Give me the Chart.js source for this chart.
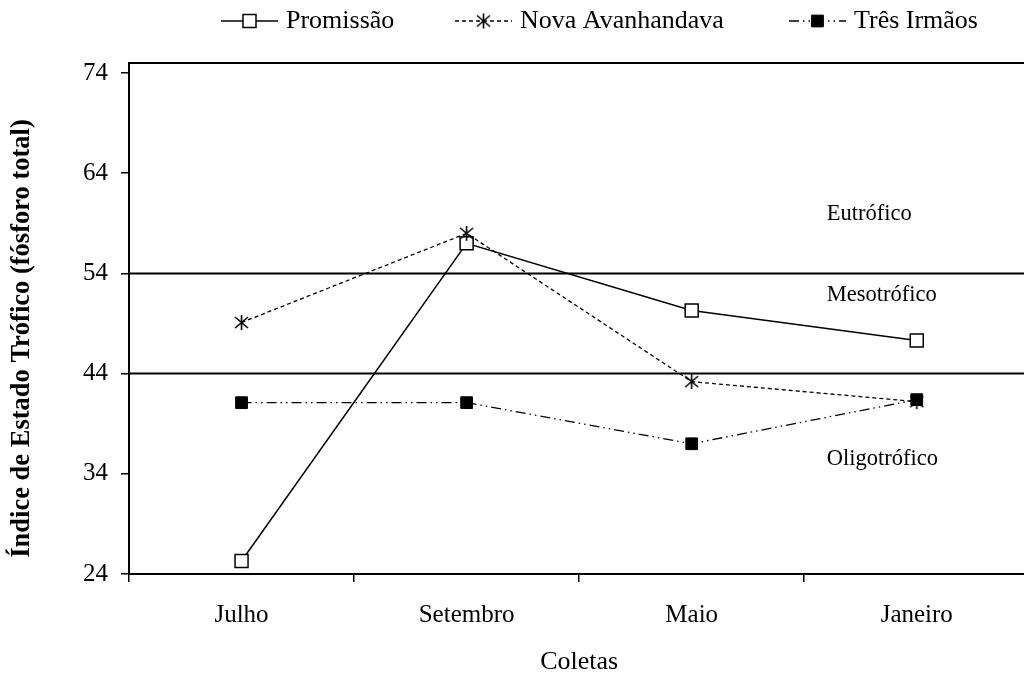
<!DOCTYPE html>
<html>
<head>
<meta charset="utf-8">
<script src="https://cdn.jsdelivr.net/npm/chart.js@4"></script>
<style>
  html, body { margin: 0; padding: 0; background: #fff; overflow: hidden; }
  #box { width: 1040px; height: 675px; }
</style>
</head>
<body>
<div id="box"><canvas id="grafico" width="1040" height="675"></canvas></div>
<script>
// valores do IET (fosforo total) por coleta
const coletas = ['Julho', 'Setembro', 'Maio', 'Janeiro'];
const promissao = [25.3, 57.0, 50.3, 47.3];
const novaAvanhandava = [49.1, 58.0, 43.2, 41.2];
const tresIrmaos = [41.1, 41.1, 37.0, 41.4];
const ticksY = [24, 34, 44, 54, 64, 74];
// limites entre as classes de estado trofico
const limites = [54, 44];
const classes = ['Eutrófico', 'Mesotrófico', 'Oligotrófico'];
const classesY = [59.9, 51.8, 35.5];
const tituloY = 'Índice de Estado Trófico (fósforo total)';

const fonte = "'Liberation Serif', 'Times New Roman', serif";

// marcador asterisco (X com traco vertical)
function estrela() {
  const c = document.createElement('canvas');
  c.width = 17; c.height = 17;
  const g = c.getContext('2d');
  g.strokeStyle = '#000';
  g.lineWidth = 1.6;
  g.beginPath();
  g.moveTo(8.5, 1); g.lineTo(8.5, 16);
  g.moveTo(2, 3); g.lineTo(15, 14);
  g.moveTo(15, 3); g.lineTo(2, 14);
  g.stroke();
  return c;
}

const faixas = {
  id: 'faixas',
  beforeDatasetsDraw(chart) {
    const {ctx, chartArea, scales} = chart;
    ctx.save();
    ctx.strokeStyle = '#000';
    ctx.lineWidth = 2;
    ctx.beginPath();
    // linha do topo
    ctx.moveTo(chartArea.left, chartArea.top);
    ctx.lineTo(chartArea.right, chartArea.top);
    limites.forEach(v => {
      const y = scales.y.getPixelForValue(v);
      ctx.moveTo(chartArea.left, y);
      ctx.lineTo(chartArea.right, y);
    });
    ctx.stroke();
    ctx.fillStyle = '#000';
    ctx.font = '22.5px ' + fonte;
    ctx.textAlign = 'left';
    ctx.textBaseline = 'middle';
    const x = scales.x.getPixelForValue(2.6);
    classes.forEach((t, i) => {
      ctx.fillText(t, x, scales.y.getPixelForValue(classesY[i]));
    });
    // titulo do eixo y
    ctx.translate(22, (chartArea.top + chartArea.bottom) / 2 + 20);
    ctx.rotate(-Math.PI / 2);
    ctx.textAlign = 'center';
    ctx.font = 'bold 26.5px ' + fonte;
    ctx.fillText(tituloY, 0, 0);
    ctx.restore();
  }
};

const legenda = {
  id: 'legenda',
  afterDraw(chart) {
    const {ctx} = chart;
    const inicio = [221, 455, 789];
    const y = 21;
    const comp = 57;
    ctx.save();
    ctx.font = '26px ' + fonte;
    ctx.textBaseline = 'middle';
    chart.data.datasets.forEach((ds, i) => {
      const x0 = inicio[i];
      ctx.strokeStyle = '#000';
      ctx.lineWidth = ds.borderWidth;
      ctx.setLineDash(ds.borderDash || []);
      ctx.beginPath();
      ctx.moveTo(x0, y);
      ctx.lineTo(x0 + comp, y);
      ctx.stroke();
      ctx.setLineDash([]);
      ctx.fillStyle = ds.pointBackgroundColor;
      ctx.strokeStyle = '#000';
      ctx.lineWidth = ds.pointBorderWidth;
      Chart.helpers.drawPoint(ctx, {
        pointStyle: ds.pointStyle, radius: ds.pointRadius,
        borderWidth: ds.pointBorderWidth, rotation: 0
      }, x0 + comp / 2, y);
      ctx.fillStyle = '#000';
      ctx.fillText(ds.label, x0 + comp + 8, y);
    });
    ctx.restore();
  }
};

new Chart(document.getElementById('grafico'), {
  type: 'line',
  data: {
    labels: coletas,
    datasets: [
      {
        label: 'Promissão',
        data: promissao,
        borderColor: '#000',
        borderWidth: 1.5,
        pointStyle: 'rect',
        pointRadius: 9.2,
        pointBackgroundColor: '#fff',
        pointBorderColor: '#000',
        pointBorderWidth: 1.5,
        order: 3
      },
      {
        label: 'Nova Avanhandava',
        data: novaAvanhandava,
        borderColor: '#000',
        borderWidth: 1.3,
        borderDash: [4, 3],
        pointStyle: estrela(),
        pointRadius: 8,
        pointBackgroundColor: '#000',
        pointBorderColor: '#000',
        pointBorderWidth: 1,
        order: 2
      },
      {
        label: 'Três Irmãos',
        data: tresIrmaos,
        borderColor: '#000',
        borderWidth: 1.3,
        borderDash: [10, 4, 1.5, 4, 1.5, 4],
        pointStyle: 'rect',
        pointRadius: 8.3,
        pointBackgroundColor: '#000',
        pointBorderColor: '#000',
        pointBorderWidth: 1,
        order: 1
      }
    ]
  },
  options: {
    responsive: false,
    animation: false,
    maintainAspectRatio: false,
    devicePixelRatio: 1,
    layout: { padding: { top: 63, right: 9, left: 0, bottom: 0 } },
    elements: { line: { tension: 0 } },
    plugins: {
      legend: { display: false },
      tooltip: { enabled: false }
    },
    scales: {
      x: {
        offset: true,
        grid: { offset: true, drawOnChartArea: false, color: '#000', lineWidth: 1.5, tickLength: 8 },
        border: { color: '#000', width: 2 },
        ticks: { color: '#000', padding: 18, font: { family: fonte, size: 25 } },
        title: { display: true, text: 'Coletas', color: '#000', padding: { top: 0, bottom: -3 },
                 font: { family: fonte, size: 26 } },
        afterFit(s) { s.height = 101; }
      },
      y: {
        min: 24,
        max: 75,
        afterBuildTicks(s) { s.ticks = ticksY.map(v => ({ value: v })); },
        grid: { drawOnChartArea: false, color: '#000', lineWidth: 1.5, tickLength: 8 },
        border: { color: '#000', width: 2 },
        ticks: { color: '#000', padding: 13, font: { family: fonte, size: 25 } },
        afterFit(s) { s.width = 129; }
      }
    }
  },
  plugins: [faixas, legenda]
});
</script>
</body>
</html>
